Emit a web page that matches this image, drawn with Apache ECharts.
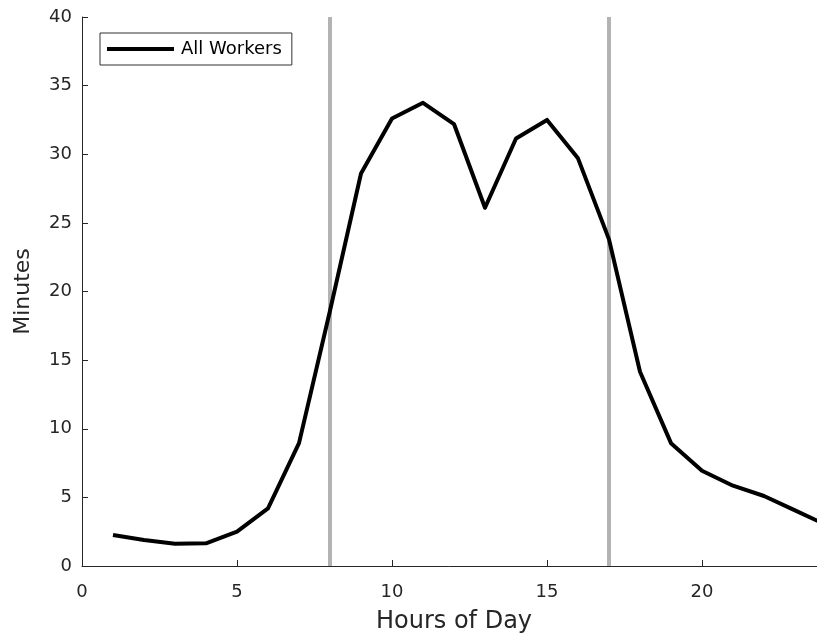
<!DOCTYPE html>
<html>
<head>
<meta charset="utf-8">
<script src="https://cdn.jsdelivr.net/npm/echarts@6/dist/echarts.min.js"></script>
<style>
  html, body { margin: 0; padding: 0; background: #fff; overflow: hidden; }
  #chart { width: 817px; height: 639px; }
</style>
</head>
<body>
<div id="chart"></div>
<script>
// Average minutes per hour of day, all workers
const hours = [1, 2, 3, 4, 5, 6, 7, 8, 9, 10, 11, 12, 13, 14, 15, 16, 17, 18, 19, 20, 21, 22, 23, 24];
const minutes = [2.26, 1.9, 1.62, 1.65, 2.5, 4.2, 8.95, 18.6, 28.6, 32.6, 33.75, 32.2, 26.1, 31.15, 32.5, 29.7, 23.8, 14.15, 8.95, 6.94, 5.85, 5.1, 4.05, 3.0];
// Start and end of the working day
const workdayBounds = [8, 17];
const xTicks = [0, 5, 10, 15, 20];
const yTicks = [0, 5, 10, 15, 20, 25, 30, 35, 40];

const FONT = 'DejaVu Sans, Liberation Sans, Arial, sans-serif';
const AXIS_COLOR = '#262626';

const lineData = hours.map((h, i) => [h, minutes[i]]);

const boundSeries = workdayBounds.map((b, i) => ({
  name: 'bound' + i,
  type: 'line',
  data: [[b, yTicks[0]], [b, yTicks[yTicks.length - 1]]],
  symbol: 'none',
  lineStyle: { color: '#b3b3b3', width: 4 },
  silent: true,
  z: 1
}));

const chart = echarts.init(document.getElementById('chart'), null, { renderer: 'canvas' });
chart.setOption({
  animation: false,
  backgroundColor: '#fff',
  // the hour axis runs to 24, slightly past the right edge of the page
  grid: { left: 82, top: 17, width: 744, bottom: 73, containLabel: false, outerBoundsMode: 'none' },
  legend: {
    data: [{ name: 'All Workers', icon: 'rect' }],
    left: 100,
    top: 33,
    orient: 'vertical',
    itemWidth: 67,
    itemHeight: 4,
    itemGap: 0,
    padding: [7, 10, 7, 7],
    borderColor: '#333',
    borderWidth: 1,
    backgroundColor: '#fff',
    itemStyle: { color: '#000' },
    textStyle: { fontFamily: FONT, fontSize: 18, color: '#000', padding: [0, 0, 0, 2] }
  },
  xAxis: {
    type: 'value',
    min: 0,
    max: 24,
    interval: 5,
    name: 'Hours of Day',
    nameLocation: 'middle',
    nameGap: 44,
    nameTextStyle: { fontFamily: FONT, fontSize: 24, color: AXIS_COLOR },
    axisLine: { show: true, lineStyle: { color: AXIS_COLOR, width: 1 } },
    axisTick: { show: true, inside: true, length: 6, lineStyle: { color: AXIS_COLOR } },
    axisLabel: {
      fontFamily: FONT, fontSize: 18, color: AXIS_COLOR, margin: 17,
      formatter: v => (xTicks.includes(v) ? String(v) : '')
    },
    splitLine: { show: false }
  },
  yAxis: {
    type: 'value',
    min: 0,
    max: 40,
    interval: 5,
    name: 'Minutes',
    nameLocation: 'middle',
    nameGap: 48,
    nameRotate: 90,
    nameTextStyle: { fontFamily: FONT, fontSize: 22, color: AXIS_COLOR },
    axisLine: { show: true, lineStyle: { color: AXIS_COLOR, width: 1 } },
    axisTick: { show: true, inside: true, length: 6, lineStyle: { color: AXIS_COLOR } },
    axisLabel: {
      fontFamily: FONT, fontSize: 18, color: AXIS_COLOR, margin: 10,
      formatter: v => (yTicks.includes(v) ? String(v) : '')
    },
    splitLine: { show: false }
  },
  series: [
    ...boundSeries,
    {
      name: 'All Workers',
      type: 'line',
      data: lineData,
      symbol: 'none',
      lineStyle: { color: '#000', width: 4, join: 'round' },
      itemStyle: { color: '#000' },
      z: 3
    }
  ]
});
</script>
</body>
</html>
